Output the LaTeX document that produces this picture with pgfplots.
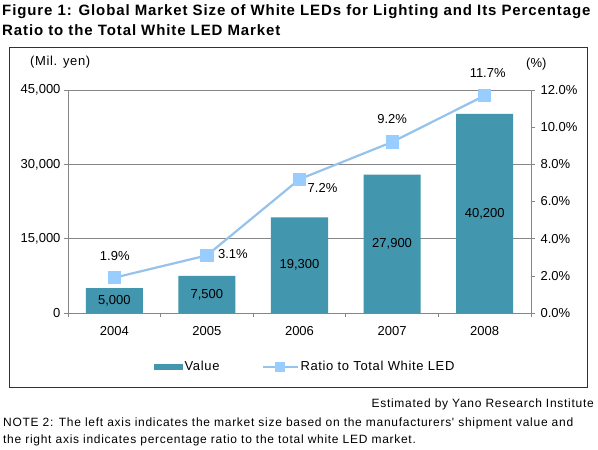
\documentclass[border=0pt]{standalone}
\usepackage{pgfplots}
\pgfplotsset{compat=1.18}
\usepackage{fontspec}
\setmainfont{Liberation Sans}
% slightly tracked face for running text
\newfontfamily\spaced[LetterSpace=6]{Liberation Sans}
\newfontfamily\legendfont[LetterSpace=5]{Liberation Sans}

\definecolor{barteal}{RGB}{66,150,174}
\definecolor{lineblue}{RGB}{150,195,235}
\definecolor{markblue}{RGB}{153,204,255}
\definecolor{gridgray}{RGB}{134,134,134}
\definecolor{framegray}{RGB}{50,50,50}

\pgfplotsset{
  /pgf/number format/assume math mode=true,
  /pgf/number format/1000 sep={,},
}

\newcommand{\ticksize}{\fontsize{13}{15}\selectfont}
\newcommand{\notesize}{\fontsize{12}{14}\selectfont\spaced}

\begin{document}
\begin{tikzpicture}
  % page area and white background
  \fill[white] (0pt,0pt) rectangle (598pt,-450pt);
  \useasboundingbox (0pt,0pt) rectangle (598pt,-450pt);

  % title
  \node[anchor=base west, inner sep=0pt, font=\fontsize{15}{17}\selectfont\spaced\bfseries]
    at (2pt,-15pt) {Figure 1: Global Market Size of White LEDs for Lighting and Its Percentage};
  \node[anchor=base west, inner sep=0pt, font=\fontsize{15}{17}\selectfont\spaced\bfseries]
    at (2pt,-35pt) {Ratio to the Total White LED Market};

  % chart frame
  \draw[framegray, line width=0.8pt] (9pt,-47pt) rectangle (587pt,-387pt);

  % unit labels
  \node[anchor=base west, inner sep=0pt, font=\ticksize\legendfont] at (30pt,-65pt) {(Mil. yen)};
  \node[anchor=base west, inner sep=0pt, font=\ticksize] at (526pt,-67pt) {(\%)};

  % market size (bars, left axis)
  \begin{axis}[
    at={(68pt,-313pt)}, anchor=south west,
    scale only axis, width=463pt, height=223pt,
    xmin=-0.5, xmax=4.5, ymin=0, ymax=45000,
    xtick={0,...,4}, xticklabels={2004,2005,2006,2007,2008},
    minor xtick={-0.5,0.5,...,4.5},
    ytick={0,15000,30000,45000},
    scaled y ticks=false,
    axis x line*=bottom, axis y line*=left,
    axis line style={draw=gridgray, -},
    ymajorgrids, grid style={draw=gridgray, line width=0.6pt},
    tick align=outside, major tick length=4pt, minor tick length=4pt,
    tick style={draw=gridgray, line width=0.6pt},
    major x tick style={draw=none},
    tick label style={font=\ticksize},
    xticklabel style={yshift=-6pt},
    legend columns=2,
    legend style={draw=none, fill=none, at={(0.512,-0.242)}, anchor=center,
      font=\ticksize\legendfont, column sep=0pt,
      /tikz/every even column/.append style={column sep=40pt}},
  ]
    \addplot[ybar, bar width=0.616, fill=barteal, draw=none,
      nodes near coords,
      visualization depends on={rawy \as \barval},
      every node near coord/.append style={anchor=center, font=\ticksize,
        text=black, shift={(axis direction cs:0,-\barval/2)}},
      legend image code/.code={\fill[barteal] (0pt,-3pt) rectangle (29pt,3pt);},
    ] coordinates {(0,5000) (1,7500) (2,19300) (3,27900) (4,40200)};
    \addlegendentry{Value}
    \addlegendimage{color=lineblue, line width=2pt, mark=square*, mark size=4pt,
      mark options={draw=markblue, fill=markblue},
      legend image code/.code={\draw[mark repeat=2, mark phase=2]
        plot coordinates {(0pt,0pt) (17.5pt,0pt) (35pt,0pt)};}}
    \addlegendentry{Ratio to Total White LED}
  \end{axis}

  % share of the total white LED market (line, right axis)
  \begin{axis}[
    at={(68pt,-313pt)}, anchor=south west,
    scale only axis, width=463pt, height=223pt,
    xmin=-0.5, xmax=4.5, ymin=0, ymax=12,
    axis x line=none, axis y line*=right,
    axis line style={draw=gridgray, -},
    ytick={0,2,...,12},
    yticklabel={\pgfmathprintnumber[fixed,fixed zerofill,precision=1]{\tick}\%},
    tick align=outside, major tick length=4pt,
    tick style={draw=gridgray, line width=0.6pt},
    tick label style={font=\ticksize},
    yticklabel style={xshift=2pt},
    clip=false,
  ]
    \addplot[color=lineblue, line width=2.2pt, mark=square*, mark size=5.5pt,
      mark options={draw=markblue, fill=markblue}]
      coordinates {(0,1.9) (1,3.1) (2,7.2) (3,9.2) (4,11.7)};
    \begin{scope}[every node/.style={inner sep=0pt, font=\ticksize}]
      \node[anchor=base] at ([shift={(0.5pt,17pt)}]axis cs:0,1.9) {1.9\%};
      \node[anchor=base west] at ([shift={(11pt,-3pt)}]axis cs:1,3.1) {3.1\%};
      \node[anchor=base west] at ([shift={(8pt,-13pt)}]axis cs:2,7.2) {7.2\%};
      \node[anchor=base] at ([shift={(0pt,19pt)}]axis cs:3,9.2) {9.2\%};
      \node[anchor=base] at ([shift={(3pt,18pt)}]axis cs:4,11.7) {11.7\%};
    \end{scope}
  \end{axis}

  % source and note
  \node[anchor=base east, inner sep=0pt, font=\notesize] at (594pt,-407pt)
    {Estimated by Yano Research Institute};
  \node[anchor=base west, inner sep=0pt, font=\notesize] at (3pt,-426pt)
    {NOTE 2: The left axis indicates the market size based on the manufacturers' shipment value and};
  \node[anchor=base west, inner sep=0pt, font=\notesize] at (3pt,-443pt)
    {the right axis indicates percentage ratio to the total white LED market.};
\end{tikzpicture}
\end{document}
